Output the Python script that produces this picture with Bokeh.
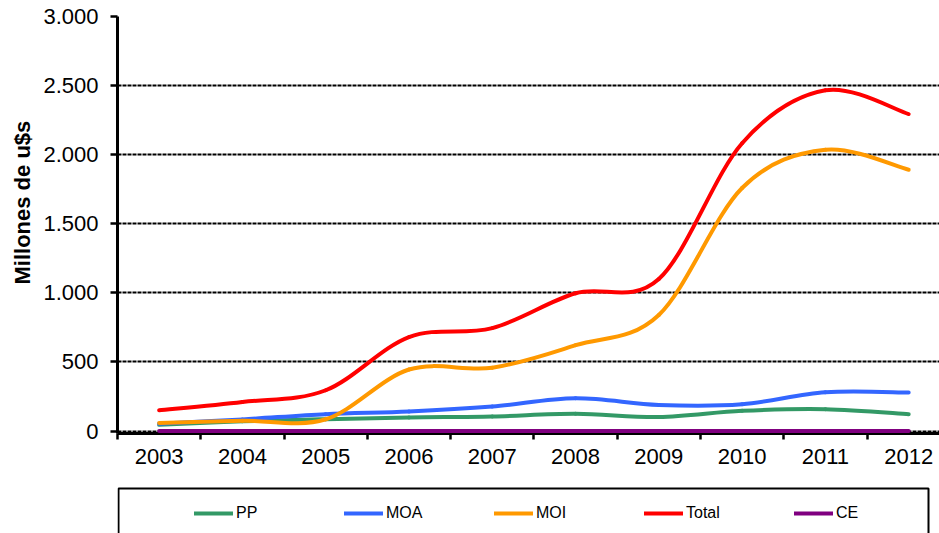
from bokeh.plotting import figure
from bokeh.models import (Range1d, FixedTicker, Legend, LegendItem, Title,
                          ColumnDataSource, BoxAnnotation)
from bokeh.layouts import column
from bokeh.embed import file_html
from bokeh.resources import INLINE

# ---- data ----
years = [2003, 2004, 2005, 2006, 2007, 2008, 2009, 2010, 2011, 2012]
pp    = [45, 70, 86, 98, 105, 125, 101, 146, 158, 122]
moa   = [53, 84, 122, 141, 177, 237, 189, 194, 280, 278]
moi   = [58, 74, 85, 445, 458, 621, 840, 1759, 2035, 1891]
total = [150, 210, 295, 680, 745, 997, 1100, 2083, 2466, 2294]
ce    = [0, 0, 0, 0, 0, 0, 0, 0, 0, 0]

series_names  = ["PP", "MOA", "MOI", "Total", "CE"]
series_values = [pp, moa, moi, total, ce]
series_colors = ["#339966", "#3366FF", "#FF9900", "#FF0000", "#800080"]

y_ticks = [0, 500, 1000, 1500, 2000, 2500, 3000]
y_tick_labels = ["0", "500", "1.000", "1.500", "2.000", "2.500", "3.000"]

FONT = "Liberation Sans"


def smooth_source(xs, ys):
    """Excel-like smoothed line: cubic Bezier segments through the data points."""
    n = len(xs)
    d = dict(x0=[], y0=[], x1=[], y1=[], cx0=[], cy0=[], cx1=[], cy1=[])
    for i in range(n - 1):
        xp, yp = (xs[i - 1], ys[i - 1]) if i > 0 else (xs[i], ys[i])
        xn, yn = (xs[i + 2], ys[i + 2]) if i + 2 < n else (xs[i + 1], ys[i + 1])
        d["x0"].append(xs[i]); d["y0"].append(ys[i])
        d["x1"].append(xs[i + 1]); d["y1"].append(ys[i + 1])
        d["cx0"].append(xs[i] + (xs[i + 1] - xp) / 6.0)
        d["cy0"].append(ys[i] + (ys[i + 1] - yp) / 6.0)
        d["cx1"].append(xs[i + 1] - (xn - xs[i]) / 6.0)
        d["cy1"].append(ys[i + 1] - (yn - ys[i]) / 6.0)
    return ColumnDataSource(d)


# ---- main chart ----
p = figure(width=939, height=480, output_backend="svg", toolbar_location=None,
           x_range=Range1d(years[0] - 0.5, years[0] - 0.5 + 9.87),
           y_range=Range1d(-18, 3000),
           min_border_left=117, min_border_right=0,
           min_border_top=16, min_border_bottom=47)
p.outline_line_color = None
p.background_fill_color = "white"
p.border_fill_color = "white"

# x axis: labels at the years, tick marks at the category boundaries
p.xaxis.ticker = FixedTicker(ticks=years,
                             minor_ticks=[y - 0.5 for y in years] + [years[-1] + 0.5])
p.xaxis.major_tick_out = 0
p.xaxis.major_tick_in = 0
p.xaxis.minor_tick_out = 6
p.xaxis.minor_tick_in = 0
p.xaxis.minor_tick_line_color = "black"
p.xaxis.minor_tick_line_width = 2.5
p.xaxis.axis_line_color = "black"
p.xaxis.axis_line_width = 3
p.xaxis.major_label_text_font = FONT
p.xaxis.major_label_text_font_size = "22px"
p.xaxis.major_label_text_color = "black"
p.xaxis.major_label_standoff = 9
p.xgrid.visible = False

# y axis
p.yaxis.ticker = FixedTicker(ticks=y_ticks)
p.yaxis.major_label_overrides = {t: l for t, l in zip(y_ticks, y_tick_labels)}
p.yaxis.major_tick_out = 7
p.yaxis.major_tick_in = 0
p.yaxis.major_tick_line_width = 2.5
p.yaxis.major_tick_line_color = "black"
p.yaxis.minor_tick_line_color = None
p.yaxis.axis_line_color = "black"
p.yaxis.axis_line_width = 3
p.yaxis.major_label_text_font = FONT
p.yaxis.major_label_text_font_size = "22px"
p.yaxis.major_label_text_color = "black"
p.yaxis.major_label_standoff = 12
p.ygrid.grid_line_color = "black"
p.ygrid.grid_line_dash = "4 1"
p.ygrid.grid_line_width = 2

ylab = Title(text="Millones de u$s", align="left", offset=149,
             text_font=FONT, text_font_size="22px", text_font_style="bold",
             text_color="black", standoff=12)
p.add_layout(ylab, "left")

for name, vals, col in zip(series_names, series_values, series_colors):
    r = p.bezier(x0="x0", y0="y0", x1="x1", y1="y1",
                 cx0="cx0", cy0="cy0", cx1="cx1", cy1="cy1",
                 source=smooth_source(years, vals),
                 line_color=col, line_width=4, line_cap="round")
    if name == "CE":
        r.level = "annotation"

# ---- legend area below ----
p2 = figure(width=939, height=53, output_backend="svg", toolbar_location=None,
            x_axis_location=None, y_axis_location=None,
            x_range=Range1d(0, 1), y_range=Range1d(0, 1),
            min_border_left=117, min_border_right=0,
            min_border_top=0, min_border_bottom=0)
p2.xgrid.visible = False
p2.ygrid.visible = False
p2.outline_line_color = None
p2.border_fill_color = "white"

# legend frame (open at the bottom, as in the cropped reference)
p2.add_layout(BoxAnnotation(left=1, right=811, top=45, bottom=-20,
                            left_units="screen", right_units="screen",
                            top_units="screen", bottom_units="screen",
                            fill_alpha=0, line_color="black", line_alpha=1,
                            line_width=2))

items = []
for name, vals, col in zip(series_names, series_values, series_colors):
    # single-point line: draws nothing itself, only supplies the legend swatch
    lr = p2.line(x=years[:1], y=vals[:1], line_color=col, line_width=4,
                 line_cap="round")
    items.append(LegendItem(label=name, renderers=[lr]))

legend = Legend(items=items, orientation="horizontal", location=(77, 10),
                padding=0, spacing=0, margin=0,
                glyph_width=39, glyph_height=20, label_standoff=3,
                label_width=108, label_height=20,
                label_text_font=FONT, label_text_font_size="16px",
                label_text_color="black",
                border_line_alpha=0, background_fill_alpha=0)
p2.add_layout(legend, "center")

layout = column(p, p2, spacing=0)
open("out.html", "w").write(file_html(layout, INLINE))
